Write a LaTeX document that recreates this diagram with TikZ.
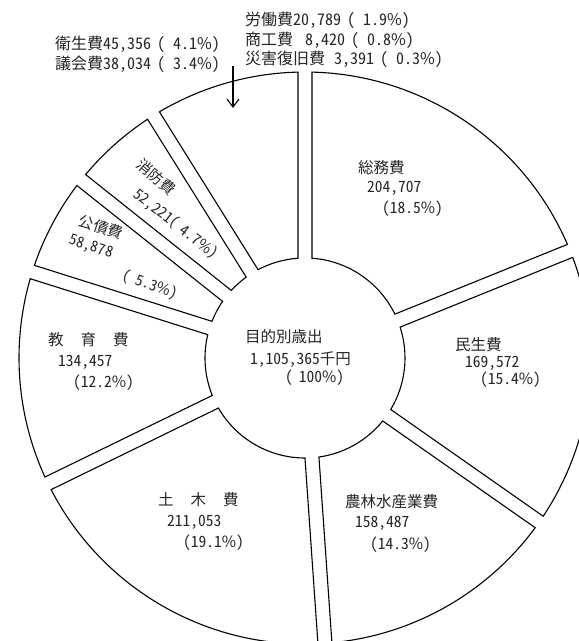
\documentclass[tikz,border=0pt]{standalone}
\usepackage{fontspec}
\newfontfamily\jp[RawFeature=+hwid]{Noto Sans CJK JP}
\newfontfamily\jpp{Noto Sans CJK JP}
\newcommand\pct{{\jpp\%}}
\usetikzlibrary{arrows.meta}
\newcommand\pieseg[2]{%
  \draw[seg] (#1+\dR:\R) arc[start angle=#1+\dR, end angle=#2-\dR, radius=\R]
    -- (#2-\dr:\r) arc[start angle=#2-\dr, end angle=#1+\dr, radius=\r] -- cycle;}
\begin{document}
\begin{tikzpicture}[x=1pt,y=1pt,
  seg/.style={draw=black, line width=1.1pt, fill=white, line join=miter},
  lbl/.style={font=\jp\fontsize{15.5}{15.5}\selectfont, inner sep=0pt, anchor=west, text=black!85},
  rlbl/.style={font=\jp\fontsize{15}{15}\selectfont, inner sep=0pt, anchor=center, text=black!85},
  toplbl/.style={font=\jp\fontsize{16}{16}\selectfont, inner sep=0pt, anchor=west, text=black!85},
]
\useasboundingbox (0,0) rectangle (579,641);
\fill[white] (0,0) rectangle (579,641);
\def\R{286}\def\r{100}\def\h{7}
\pgfmathsetmacro\dR{asin(\h/\R)}
\pgfmathsetmacro\dr{asin(\h/\r)}
\begin{scope}[shift={(305,283)}]
  \pieseg{22}{90}
  \pieseg{-35}{22}
  \pieseg{-86}{-35}
  \pieseg{-154}{-86}
  \pieseg{162.5}{206}
  \pieseg{141.5}{162.5}
  \pieseg{122}{141.5}
  \pieseg{90}{122}
\end{scope}
% top labels
\node[toplbl] (rodo) at (245,621) {労働費20,789\hspace{6pt}(\hspace{8pt}1.9\pct)};
\node[toplbl] (shoko) at (245,601) {商工費\hspace{12pt}8,420\hspace{6pt}(\hspace{8pt}0.8\pct)};
\node[toplbl] (saigai) at (245,582) {災害復旧費\hspace{9pt}3,391\hspace{6pt}(\hspace{8pt}0.3\pct)};
\node[toplbl] (eisei) at (55,597) {衛生費45,356\hspace{6pt}(\hspace{8pt}4.1\pct)};
\node[toplbl] (gikai) at (55,577) {議会費38,034\hspace{6pt}(\hspace{8pt}3.4\pct)};
\coordinate (arrS) at (233,575);
\coordinate (arrE) at (233,533);
\draw[line width=1.1pt, -{Straight Barb[length=8pt,width=12pt,line width=1.1pt]}] (arrS) -- (arrE);
% segment labels
\node[lbl] (somu) at (358,473) {総務費};
\node[lbl] (somuv) at (367,453) {204,707};
\node[lbl] (somup) at (382,432) {(18.5\pct)};
\node[lbl] (minsei) at (455,296) {民生費};
\node[lbl] (minseiv) at (465,278) {169,572};
\node[lbl] (minseip) at (480,261) {(15.4\pct)};
\node[lbl] (total) at (245,304) {目的別歳出};
\node[lbl] (totalv) at (250,281) {1,105,365千円};
\node[lbl] (totalp) at (285,263) {(\hspace{6pt}100\pct)};
\node[lbl] (norin) at (345,139) {農林水産業費};
\node[lbl] (norinv) at (355,118) {158,487};
\node[lbl] (norinp) at (370,96) {(14.3\pct)};
\node[lbl] (doboku) at (158,141) {土\hspace{17pt}木\hspace{17pt}費};
\node[lbl] (dobokuv) at (167,119) {211,053};
\node[lbl] (dobokup) at (183,98) {(19.1\pct)};
\node[lbl] (kyoiku) at (48,301) {教\hspace{17pt}育\hspace{17pt}費};
\node[lbl] (kyoikuv) at (58,279) {134,457};
\node[lbl] (kyoikup) at (73,258) {(12.2\pct)};
\node[rlbl, rotate=-18] (kosai) at (101,414) {公債費};
\node[rlbl, rotate=-18] (kosaiv) at (91,394) {58,878};
\node[rlbl, rotate=-20] (kosaip) at (150,356) {(\hspace{6pt}5.3\pct)};
\node[rlbl, rotate=-40] (shobo) at (156,464) {消防費};
\node[rlbl, rotate=-38] (shobov) at (176,417) {52,221(\hspace{6pt}4.7\pct)};
\end{tikzpicture}
\end{document}
